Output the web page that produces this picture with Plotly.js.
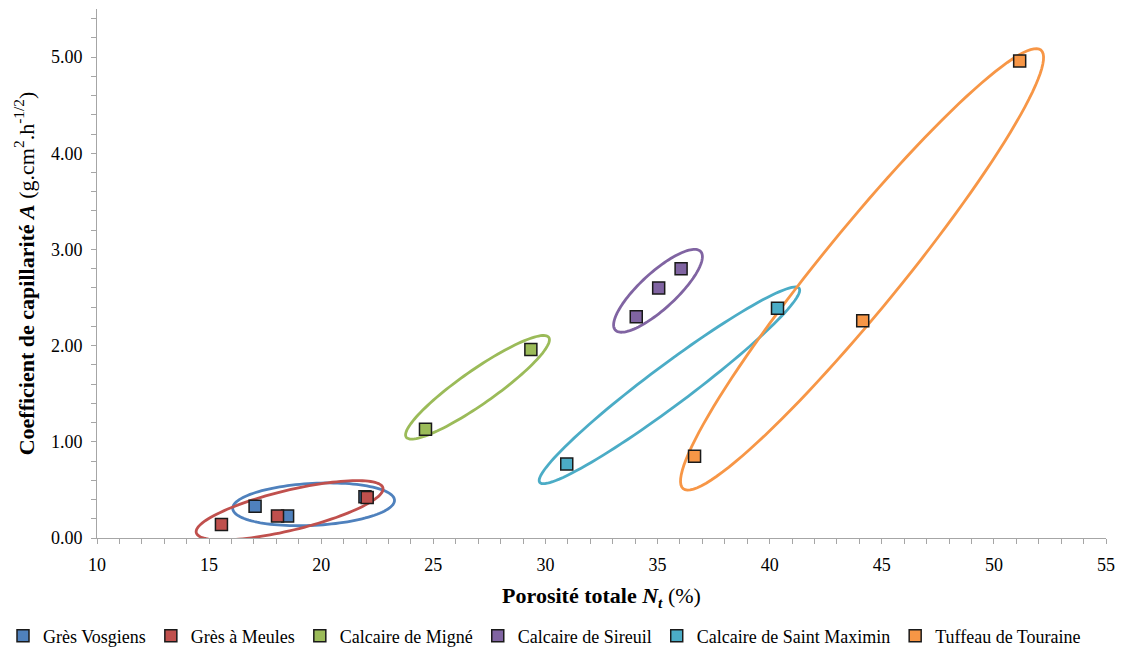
<!DOCTYPE html>
<html>
<head>
<meta charset="utf-8">
<script src="https://cdn.plot.ly/plotly-3.0.1.min.js"></script>
<style>html,body{margin:0;padding:0;background:#fff;}#chart{width:1124px;height:650px;}</style>
</head>
<body>
<div id="chart"></div>
<script>
// Series names
const seriesNames = ["Grès Vosgiens", "Grès à Meules", "Calcaire de Migné", "Calcaire de Sireuil", "Calcaire de Saint Maximin", "Tuffeau de Touraine"];
// Porosité totale Nt (%) and coefficient de capillarité A
const gresVosgiensX = [17.05, 18.5, 21.95];
const gresVosgiensY = [0.33, 0.23, 0.43];
const gresMeulesX = [15.55, 18.05, 22.05];
const gresMeulesY = [0.14, 0.23, 0.42];
const migneX = [24.65, 29.35];
const migneY = [1.13, 1.96];
const sireuilX = [34.05, 35.05, 36.05];
const sireuilY = [2.30, 2.60, 2.80];
const saintMaximinX = [30.95, 40.35];
const saintMaximinY = [0.77, 2.39];
const tuffeauX = [36.65, 44.15, 51.15];
const tuffeauY = [0.85, 2.26, 4.96];

const colors = ["#4F81BD", "#C0504D", "#9BBB59", "#8064A2", "#4BACC6", "#F79646"];
const xs = [gresVosgiensX, gresMeulesX, migneX, sireuilX, saintMaximinX, tuffeauX];
const ys = [gresVosgiensY, gresMeulesY, migneY, sireuilY, saintMaximinY, tuffeauY];

const W = 1124, H = 650;
const margin = {l: 97, r: 18, t: 9, b: 112, autoexpand: false};
const xRange = [10, 55], yRange = [0, 5.5];
const plotW = W - margin.l - margin.r, plotH = H - margin.t - margin.b;
const kx = plotW / (xRange[1] - xRange[0]);
const ky = plotH / (yRange[1] - yRange[0]);

// Grouping ellipses: centre in data units, semi-axes (px) and tilt (deg)
const ellipses = [
  {cx: 19.66, cy: 0.350, a: 81, b: 21, deg: 3, color: colors[0]},
  {cx: 18.59, cy: 0.288, a: 96, b: 20, deg: 13.5, color: colors[1]},
  {cx: 26.97, cy: 1.567, a: 87, b: 17, deg: 35, color: colors[2]},
  {cx: 35.02, cy: 2.570, a: 58, b: 18, deg: 42.6, color: colors[3]},
  {cx: 35.53, cy: 1.587, a: 162, b: 20, deg: 36.8, color: colors[4]},
  {cx: 44.12, cy: 2.793, a: 283, b: 40, deg: 50.8, color: colors[5]}
];

function ellipsePath(e) {
  const th = e.deg * Math.PI / 180;
  const n = 120;
  let p = "";
  for (let i = 0; i <= n; i++) {
    const t = 2 * Math.PI * i / n;
    const u = e.a * Math.cos(t), v = e.b * Math.sin(t);
    const dx = u * Math.cos(th) - v * Math.sin(th);
    const dy = u * Math.sin(th) + v * Math.cos(th);
    const x = e.cx + dx / kx, y = e.cy + dy / ky;
    p += (i === 0 ? "M" : "L") + x.toFixed(4) + "," + y.toFixed(4);
  }
  return p + "Z";
}

const shapes = ellipses.map(e => ({
  type: "path", xref: "x", yref: "y", path: ellipsePath(e),
  line: {color: e.color, width: 2.8}, layer: "below"
}));

const traces = seriesNames.map((name, i) => ({
  type: "scatter", mode: "markers", name: name,
  x: xs[i], y: ys[i],
  marker: {symbol: "square", size: 12, color: colors[i], line: {color: "#1a1a1a", width: 1.5}},
  cliponaxis: false
}));

const font = "Liberation Serif";
const layout = {
  width: W, height: H,
  margin: margin,
  paper_bgcolor: "#ffffff", plot_bgcolor: "#ffffff",
  font: {family: font, size: 18, color: "#000"},
  showlegend: true,
  legend: {
    orientation: "h", xref: "paper", yref: "paper",
    x: -(margin.l - 3) / plotW, xanchor: "left",
    y: -98 / plotH, yanchor: "middle",
    font: {family: font, size: 18, color: "#000"},
    itemwidth: 30, tracegroupgap: 0
  },
  xaxis: {
    range: xRange, showgrid: false, zeroline: false,
    showline: true, linecolor: "#A6A6A6", linewidth: 1,
    ticks: "outside", ticklen: 5, tickcolor: "#A6A6A6", tickwidth: 1,
    tick0: 10, dtick: 5, ticklabelstandoff: 5,
    minor: {ticks: "outside", ticklen: 5, tickcolor: "#A6A6A6", dtick: 1, showgrid: false},
    tickfont: {family: font, size: 18, color: "#000"},
    title: {text: "<b>Porosité totale <i>N<sub>t</sub></i></b> (%)", font: {family: font, size: 22, color: "#000"}, standoff: 14}
  },
  yaxis: {
    range: yRange, showgrid: false, zeroline: false,
    showline: true, linecolor: "#A6A6A6", linewidth: 1,
    ticks: "outside", ticklen: 5, tickcolor: "#A6A6A6", tickwidth: 1,
    tick0: 0, dtick: 1, tickformat: ".2f", ticklabelstandoff: 5,
    minor: {ticks: "outside", ticklen: 5, tickcolor: "#A6A6A6", dtick: 0.2, showgrid: false},
    tickfont: {family: font, size: 18, color: "#000"},
    title: {text: "<b>Coefficient de capillarité <i>A</i></b> (g.cm<sup>2</sup>.h<sup>-1/2</sup>)", font: {family: font, size: 22, color: "#000"}, standoff: 10}
  },
  shapes: shapes
};

Plotly.newPlot("chart", traces, layout, {displayModeBar: false, staticPlot: true});
</script>
</body>
</html>
